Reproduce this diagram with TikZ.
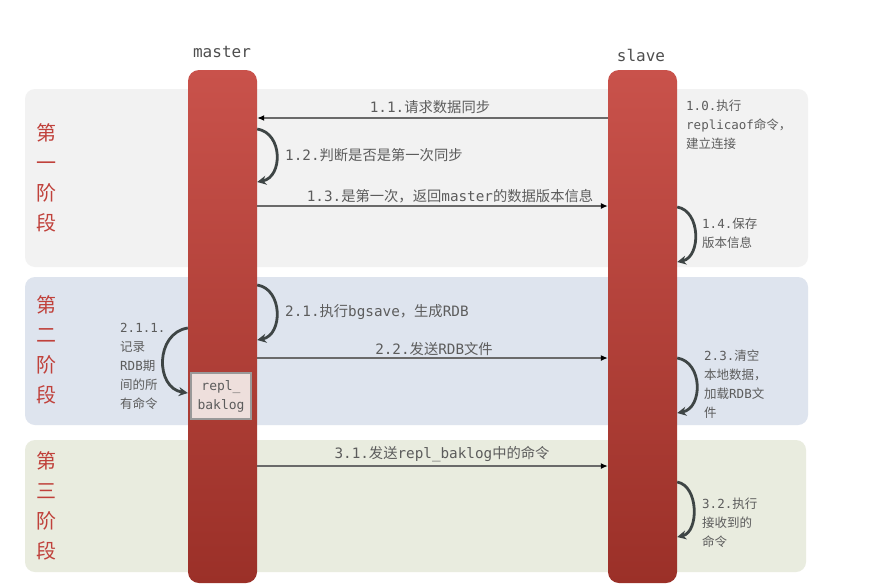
\documentclass[tikz,border=0pt]{standalone}
\usepackage{fontspec}
\setmainfont{DejaVu Sans Mono}
\newfontfamily\zh{Noto Sans CJK SC}
\usetikzlibrary{arrows.meta}
\definecolor{phaseA}{HTML}{F2F2F2}
\definecolor{phaseB}{HTML}{DEE4EE}
\definecolor{phaseC}{HTML}{E9ECDF}
\definecolor{barTop}{HTML}{C9524B}
\definecolor{barBot}{HTML}{9B3028}
\definecolor{phaseRed}{HTML}{C0413B}
\definecolor{txt}{HTML}{5C5C5C}
\definecolor{loopc}{HTML}{3E4545}
\definecolor{msgc}{HTML}{6A6A6A}
\definecolor{bufc}{HTML}{EEDFDC}
\begin{document}
\begin{tikzpicture}[x=1pt,y=-1pt,
  band/.style={rounded corners=10pt, draw=none},
  lifeline/.style={rounded corners=11pt, top color=barTop, bottom color=barBot, draw=none, minimum width=69pt, minimum height=513pt, inner sep=0pt},
  phaselabel/.style={text=phaseRed, font=\zh\fontsize{20}{30}\selectfont, align=center, inner sep=0pt},
  head/.style={text=txt!85!black, font=\fontsize{16}{18}\selectfont, inner sep=0pt},
  msglabel/.style={text=txt, font=\fontsize{14.3}{17}\selectfont, inner sep=0pt},
  sidelabel/.style={text=txt, font=\fontsize{12.5}{19}\selectfont, align=left, inner sep=0pt, anchor=west},
  msg/.style={draw=msgc, line width=1.2pt, -{Latex[length=7pt,width=6pt,color=black]}},
  selfloop/.style={draw=loopc, line width=2.8pt, -{Stealth[length=9pt,width=9pt]}},
  buffer/.style={fill=bufc, draw=black!40, line width=1.6pt, minimum width=60pt, minimum height=46pt, inner sep=0pt, text=txt, align=center, font=\fontsize{13}{19}\selectfont}
]
\useasboundingbox[fill=white] (0,0) rectangle (869,586);

% phase bands
\fill[band, phaseA] (25,89) rectangle (808,267);
\fill[band, phaseB] (25,277) rectangle (808,425);
\fill[band, phaseC] (25,440) rectangle (806,572);

% phase labels
\node[phaselabel] (p1) at (46,178) {第\\一\\阶\\段};
\node[phaselabel] (p2) at (46,350) {第\\二\\阶\\段};
\node[phaselabel] (p3) at (46,506) {第\\三\\阶\\段};

% lifelines
\node[lifeline] (M) at (222.5,326.5) {};
\node[lifeline] (S) at (642.5,326.5) {};
\node[head] (mh) at (222,52) {master};
\node[head] (sh) at (641,55) {slave};

% phase 1
\path (M.east |- 0,118) coordinate (m11) (S.west |- 0,118) coordinate (s11);
\draw[msg] (s11) -- (m11);
\node[msglabel] (l11) at (430,107) {1.1.{\zh 请求数据同步}};

\path (M.east |- 0,129) coordinate (m12a) (M.east |- 0,182) coordinate (m12b);
\draw[selfloop] (m12a) .. controls (283,133) and (283,177) .. (m12b);
\node[msglabel, anchor=west] (l12) at (285,155) {1.2.{\zh 判断是否是第一次同步}};

\path (M.east |- 0,206) coordinate (m13) (S.west |- 0,206) coordinate (s13);
\draw[msg] (m13) -- (s13);
\node[msglabel] (l13) at (450,196) {1.3.{\zh 是第一次，返回}master{\zh 的数据版本信息}};

\node[sidelabel] (l10) at (686,125) {1.0.{\zh 执行}\\replicaof{\zh 命令，}\\{\zh 建立连接}};

\path (S.east |- 0,207) coordinate (s14a) (S.east |- 0,262) coordinate (s14b);
\draw[selfloop] (s14a) .. controls (701,211) and (701,257) .. (s14b);
\node[sidelabel] (l14) at (702,233) {1.4.{\zh 保存}\\{\zh 版本信息}};

% phase 2
\path (M.east |- 0,285) coordinate (m21a) (M.east |- 0,340) coordinate (m21b);
\draw[selfloop] (m21a) .. controls (283,289) and (283,335) .. (m21b);
\node[msglabel, anchor=west] (l21) at (285,312) {2.1.{\zh 执行}bgsave{\zh ，生成}RDB};

\path (M.east |- 0,358) coordinate (m22) (S.west |- 0,358) coordinate (s22);
\draw[msg] (m22) -- (s22);
\node[msglabel] (l22) at (434,349) {2.2.{\zh 发送}RDB{\zh 文件}};

\path (M.west |- 0,328) coordinate (m211a) (M.west |- 0,393) coordinate (m211b);
\draw[selfloop] (m211a) .. controls (155,333) and (155,388) .. (m211b);
\node[sidelabel] (l211) at (120,366) {2.1.1.\\{\zh 记录}\\RDB{\zh 期}\\{\zh 间的所}\\{\zh 有命令}};

\node[buffer] (buf) at (221,396) {repl\_\\baklog};

\path (S.east |- 0,358) coordinate (s23a) (S.east |- 0,413) coordinate (s23b);
\draw[selfloop] (s23a) .. controls (703,362) and (703,408) .. (s23b);
\node[sidelabel] (l23) at (704,384.5) {2.3.{\zh 清空}\\{\zh 本地数据，}\\{\zh 加载}RDB{\zh 文}\\{\zh 件}};

% phase 3
\path (M.east |- 0,466) coordinate (m31) (S.west |- 0,466) coordinate (s31);
\draw[msg] (m31) -- (s31);
\node[msglabel] (l31) at (442,454) {3.1.{\zh 发送}repl\_baklog{\zh 中的命令}};

\path (S.east |- 0,482) coordinate (s32a) (S.east |- 0,537) coordinate (s32b);
\draw[selfloop] (s32a) .. controls (699,486) and (699,532) .. (s32b);
\node[sidelabel] (l32) at (702,523) {3.2.{\zh 执行}\\{\zh 接收到的}\\{\zh 命令}};
\end{tikzpicture}
\end{document}
